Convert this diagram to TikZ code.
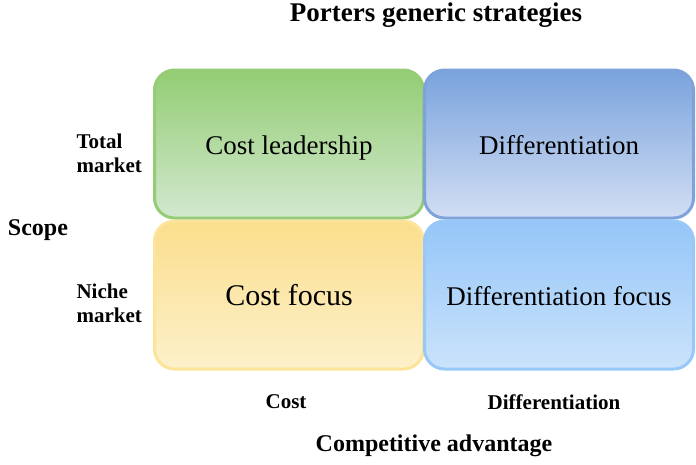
\documentclass[tikz,border=0pt]{standalone}
\usepackage{fontspec}
\setmainfont{Liberation Serif}
\usetikzlibrary{positioning}

\definecolor{greentop}{HTML}{93CD73}
\definecolor{greenbot}{HTML}{D3E8D0}
\definecolor{greenline}{HTML}{96CC76}
\definecolor{bluetop}{HTML}{7AA3DD}
\definecolor{bluebot}{HTML}{D2DEF3}
\definecolor{blueline}{HTML}{7EA3DB}
\definecolor{yellowtop}{HTML}{FBDE8D}
\definecolor{yellowbot}{HTML}{FDF1CB}
\definecolor{yellowline}{HTML}{FCE59A}
\definecolor{skytop}{HTML}{95C6F8}
\definecolor{skybot}{HTML}{CBE3FB}
\definecolor{skyline}{HTML}{97C8F8}

\begin{document}
\begin{tikzpicture}[x=1pt,y=-1pt]
            \tikzstyle{quad}=[rounded corners=20pt,line width=3pt,minimum width=269pt,minimum height=148pt,text height=21pt,text depth=0pt,font=\fontsize{27}{30}\selectfont]
            \tikzstyle{axis}=[font=\bfseries\fontsize{21}{24}\selectfont]
            \tikzstyle{side}=[axis,align=left,anchor=west]
            \useasboundingbox (0,0) rectangle (696,464);
            \node[font=\bfseries\fontsize{27}{30}\selectfont] (title) at (436,15) {Porters generic strategies};
            \node[quad,draw=greenline,top color=greentop,bottom color=greenbot] (costlead) at (289,144) {Cost leadership};
            \node[quad,draw=blueline,top color=bluetop,bottom color=bluebot] (diff) at (559,144) {Differentiation};
            \node[quad,draw=yellowline,top color=yellowtop,bottom color=yellowbot,font=\fontsize{30}{32}\selectfont] (costfocus) at (289,295) {Cost focus};
            \node[quad,draw=skyline,top color=skytop,bottom color=skybot] (difffocus) at (559,295) {Differentiation focus};
            \node[side] (total) at (73,153) {Total\\market};
            \node[side] (niche) at (73,303) {Niche\\market};
            \node[axis,font=\bfseries\fontsize{24}{26}\selectfont] (scope) at (38,230) {Scope};
            \node[axis] (cost) at (286,402) {Cost};
            \node[axis] (differ) at (554,402) {Differentiation};
            \node[axis,font=\bfseries\fontsize{24}{26}\selectfont] (compadv) at (434,446) {Competitive advantage};
        \end{tikzpicture}
\end{document}
